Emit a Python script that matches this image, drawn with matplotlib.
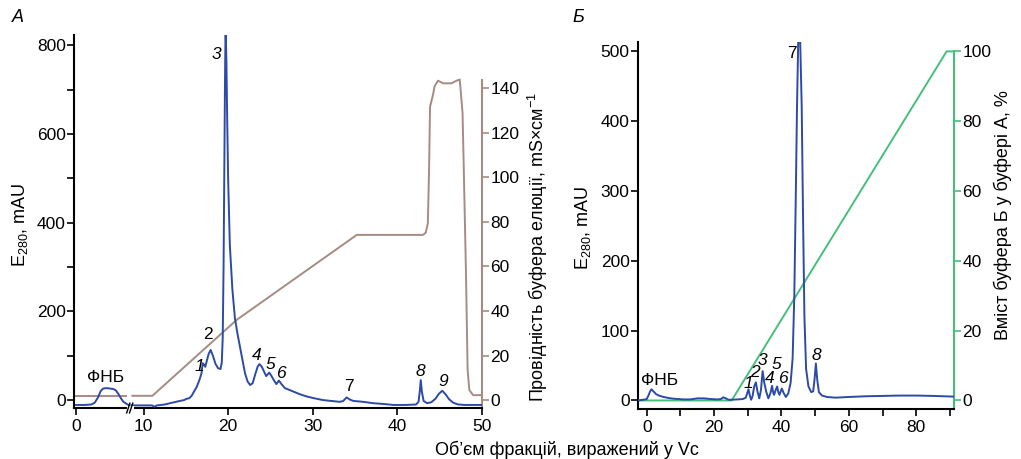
import numpy as np
import matplotlib
matplotlib.use('Agg')
import matplotlib.pyplot as plt

plt.rcParams['font.family'] = ['Liberation Sans', 'DejaVu Sans']
plt.rcParams['mathtext.fontset'] = 'custom'
plt.rcParams['mathtext.rm'] = 'Liberation Sans'
plt.rcParams['mathtext.it'] = 'Liberation Sans:italic'

BLUE = '#2d4aa6'
BROWN = '#a68b83'
GREEN = '#45bf7a'

# ---------------------------------------------------------------- panel A data
# absorbance, part before the axis break
a_pre_x = [0, 1.0, 1.8, 2.2, 2.6, 2.9, 3.2, 3.6, 4.0, 4.4, 4.7, 5.0, 5.3, 5.6, 6.0, 6.3]
a_pre_y = [-11, -11, -10, -6, 6, 20, 26, 27, 26, 25, 22, 14, 4, -4, -9, -12]

# absorbance, part after the axis break
a_x = [8.6, 10.0, 11.0, 11.3, 11.6, 12.5, 13.6, 14.3, 14.8, 15.1, 15.4, 15.7, 15.96, 16.3,
       16.6, 16.85, 17.0, 17.15, 17.3, 17.5, 17.7, 17.93, 18.2, 18.5, 18.8, 19.1, 19.25,
       19.36, 19.46, 19.55, 19.63, 19.7, 19.8, 19.9, 20.0, 20.2, 20.5, 20.8, 21.1, 21.4,
       21.7, 22.0, 22.3, 22.6, 22.9, 23.2, 23.5, 23.7, 23.95, 24.2, 24.5, 24.85, 25.1,
       25.4, 25.7, 26.0, 26.3, 26.7, 27.1, 27.6, 28.5, 29.3, 30.2, 31.2, 32.2, 33.2, 33.6,
       34.0, 34.4, 34.8, 36.0, 37.1, 38.5, 39.5, 41.0, 42.2, 42.5, 42.65, 42.76, 42.9,
       43.1, 43.5, 44.0, 44.5, 44.9, 45.3, 45.7, 46.1, 46.6, 47.2, 48.0, 50.0]
a_y = [-12, -12, -12, -15, -12, -10, -5, -2, 0, 3, 4, 10, 19, 30,
       45, 60, 83, 80, 75, 90, 104, 113, 100, 82, 72, 70, 85,
       140, 300, 520, 720, 840, 760, 620, 500, 350, 250, 185, 150, 120,
       90, 60, 42, 34, 38, 58, 76, 81, 76, 66, 54, 62, 55,
       45, 36, 44, 36, 27, 24, 20, 13, 8, 4, 0, -2, -4, -2,
       6, 1, -2, -4, -7, -9, -11, -11, -10, -4, 20, 45, 18,
       -2, -7, -5, 3, 14, 21, 13, 2, -6, -10, -11, -11]

# conductivity, mS/cm
a_cond_pre_x = [0, 5.87]
a_cond_pre_y = [1.9, 1.9]
a_cond_x = [8.68, 11.05, 21.0, 35.2, 42.6, 43.03, 43.35, 43.6, 43.74, 43.86, 44.2, 44.4, 44.8,
            45.4, 46.4, 47.0, 47.37, 47.7, 47.85, 48.1, 48.3, 48.5, 48.95, 50.0]
a_cond_y = [1.9, 1.9, 36, 74.2, 74.2, 74.2, 75.2, 79.4, 103, 131.8, 137, 141, 143.5,
            142.3, 142.3, 143.5, 144, 129, 103, 58, 13.5, 4.5, 2.2, 2.2]

a_peak_names = ['ФНБ', '1', '2', '3', '4', '5', '6', '7', '8', '9']
a_peak_x = [3.5, 16.55, 17.65, 18.56, 23.37, 25.0, 26.2, 34.26, 42.77, 45.4]
a_peak_y = [51, 75, 148, 778, 101, 81, 59, 31, 64, 41]
a_peak_italic = [False, True, False, True, True, True, True, False, True, True]

# ---------------------------------------------------------------- panel B data
b_x = [-2.58, -1, 0, 0.6, 1.0, 1.4, 2.0, 2.8, 3.6, 5, 6.5, 8, 9.5, 11, 13, 15, 17, 19, 21,
       22, 22.7, 23.5, 24.3, 25.1, 27, 28.5, 29.4, 29.8, 30.2, 30.6, 31.0, 31.4, 31.9, 32.4,
       32.9, 33.4, 33.9, 34.4, 34.9, 35.5, 36.1, 36.7, 37.2, 37.5, 37.8, 38.2, 38.7, 39.05,
       39.4, 39.75, 40.1, 40.6, 41.3, 42.0, 42.7, 43.3, 43.8, 44.2, 44.6, 45.0, 45.5, 46.0,
       46.4, 46.8, 47.3, 48.0, 48.8, 49.4, 49.8, 50.2, 50.6, 51.1, 52, 53.5, 56, 60, 65,
       70, 75, 80, 85, 91.2]
b_y = [0, 1, 2, 8, 13, 16, 13, 9, 7, 5, 3.5, 2.5, 2, 1.5, 1.5, 3, 3, 2, 1.5,
       2, 4.5, 3, 1, 1, 1.5, 2, 4, 10, 16, 7, 1, 6, 20, 26,
       12, 3, 15, 42, 25, 12, 3, 10, 21, 12, 8, 14, 20, 12,
       8, 13, 17, 11, 5, 10, 25, 60, 150, 280, 420, 525, 525, 420,
       260, 120, 45, 20, 12, 13, 30, 53, 30, 12, 7, 5, 4, 5, 6,
       6.5, 7, 7, 6.5, 5.5]

# share of buffer B, %
b_grad_x = [-2.58, 25.2, 89.0, 91.2]
b_grad_y = [0, 0, 100, 100]

b_peak_names = ['ФНБ', '1', '2', '3', '4', '5', '6', '7', '8']
b_peak_x = [3.7, 30.3, 32.1, 34.3, 36.6, 38.6, 40.5, 43.0, 50.2]
b_peak_y = [28, 23.6, 40, 57, 32, 51, 31, 497, 64]
b_peak_italic = [False, True, True, True, True, True, True, False, True]


# piecewise axis with a break between ~6.4 and ~8.5
def brk_fwd(x):
    return np.interp(x, [-100, 6.4, 8.5, 200], [-100, 6.4, 6.47, 197.97])


def brk_inv(p):
    return np.interp(p, [-100, 6.4, 6.47, 197.97], [-100, 6.4, 8.5, 200])


def style_axes(ax, right_ax, right_color, right_bounds):
    ax.spines['top'].set_visible(False)
    ax.spines['right'].set_visible(False)
    for s in ['left', 'bottom']:
        ax.spines[s].set_linewidth(1.5)
    right_ax.spines['top'].set_visible(False)
    right_ax.spines['left'].set_visible(False)
    right_ax.spines['bottom'].set_visible(False)
    right_ax.spines['right'].set_color(right_color)
    right_ax.spines['right'].set_linewidth(1.5)
    right_ax.spines['right'].set_bounds(*right_bounds)
    ax.tick_params(axis='y', direction='out', length=5, width=1.2, labelsize=12.5, pad=1)
    ax.tick_params(axis='x', direction='out', length=5, width=1.2, labelsize=12.5, pad=3)
    right_ax.tick_params(axis='y', direction='out', length=5, width=1.2, labelsize=12.5,
                         pad=1, color=right_color)


def peak_labels(ax, names, xs, ys, italics):
    for n, x, y, it in zip(names, xs, ys, italics):
        ax.text(x, y, n, ha='center', va='center', fontsize=12.5,
                style='italic' if it else 'normal')


fig = plt.figure(figsize=(10.21, 4.59), dpi=100)

# ---------------------------------------------------------------- panel A
axA = fig.add_axes([0.0725, 0.111, 0.3996, 0.8127])
axA.set_xscale('function', functions=(brk_fwd, brk_inv))
axA.plot(a_pre_x, a_pre_y, color=BLUE, lw=1.4, zorder=3)
axA.plot(a_x, a_y, color=BLUE, lw=1.4, zorder=3)
axA.set_xlim(-0.24, 50)
axA.set_ylim(-18, 823)
axA.set_xticks([0, 10, 20, 30, 40, 50])
axA.set_xticklabels(['0', '10', '20', '30', '40', '50'])
axA.set_yticks(np.arange(0, 801, 100))
axA.set_yticklabels(['0', '', '200', '', '400', '', '600', '', '800'])
peak_labels(axA, a_peak_names, a_peak_x, a_peak_y, a_peak_italic)

axA2 = axA.twinx()
axA2.plot(a_cond_pre_x, a_cond_pre_y, color=BROWN, lw=1.4, zorder=2)
axA2.plot(a_cond_x, a_cond_y, color=BROWN, lw=1.4, zorder=2)
axA2.set_ylim(-3.6, 164)
axA2.set_yticks(np.arange(0, 141, 20))
axA.set_zorder(axA2.get_zorder() + 1)
axA.patch.set_visible(False)
style_axes(axA, axA2, BROWN, (-3.6, 143.6))

# axis break mark
bx = 0.1385
axA.plot([bx - 0.004, bx + 0.004], [-0.001, -0.001], color='white', lw=3,
         transform=axA.transAxes, clip_on=False, zorder=10)
for dx in (-0.0055, 0.0015):
    axA.plot([bx + dx - 0.004, bx + dx + 0.004], [-0.013, 0.013], color='black', lw=1,
             transform=axA.transAxes, clip_on=False, zorder=11)

# ---------------------------------------------------------------- panel B
axB = fig.add_axes([0.6249, 0.109, 0.3095, 0.7996])
axB.plot(b_x, b_y, color=BLUE, lw=1.4, zorder=3)
axB.set_xlim(-2.58, 91.2)
axB.set_ylim(-12.2, 513.6)
axB.set_xticks(np.arange(0, 91, 10))
axB.set_xticklabels(['0', '', '20', '', '40', '', '60', '', '80', ''])
axB.set_yticks(np.arange(0, 501, 100))
peak_labels(axB, b_peak_names, b_peak_x, b_peak_y, b_peak_italic)

axB2 = axB.twinx()
axB2.plot(b_grad_x, b_grad_y, color=GREEN, lw=1.4, zorder=2)
axB2.set_ylim(-2.44, 102.7)
axB2.set_yticks(np.arange(0, 101, 20))
axB.set_zorder(axB2.get_zorder() + 1)
axB.patch.set_visible(False)
style_axes(axB, axB2, GREEN, (-2.44, 100))

# ---------------------------------------------------------------- labels
fig.text(20 / 1021, 1 - 225 / 459, 'E$_{280}$, mAU', rotation=90, ha='center', va='center', fontsize=13)
fig.text(538 / 1021, 1 - 247 / 459, 'Провідність буфера елюції, mS×см$^{-1}$', rotation=90,
         ha='center', va='center', fontsize=13)
fig.text(583 / 1021, 1 - 228 / 459, 'E$_{280}$, mAU', rotation=90, ha='center', va='center', fontsize=13)
fig.text(1003 / 1021, 1 - 215 / 459, 'Вміст буфера Б у буфері А, %', rotation=90,
         ha='center', va='center', fontsize=13)
fig.text(567 / 1021, 1 - 450 / 459, 'Об’єм фракцій, виражений у Vc', ha='center', va='center',
         fontsize=13)
fig.text(18 / 1021, 1 - 18 / 459, 'А', style='italic', ha='center', va='center', fontsize=13)
fig.text(578 / 1021, 1 - 18 / 459, 'Б', style='italic', ha='center', va='center', fontsize=13)

fig.savefig('out.png', dpi=100)
